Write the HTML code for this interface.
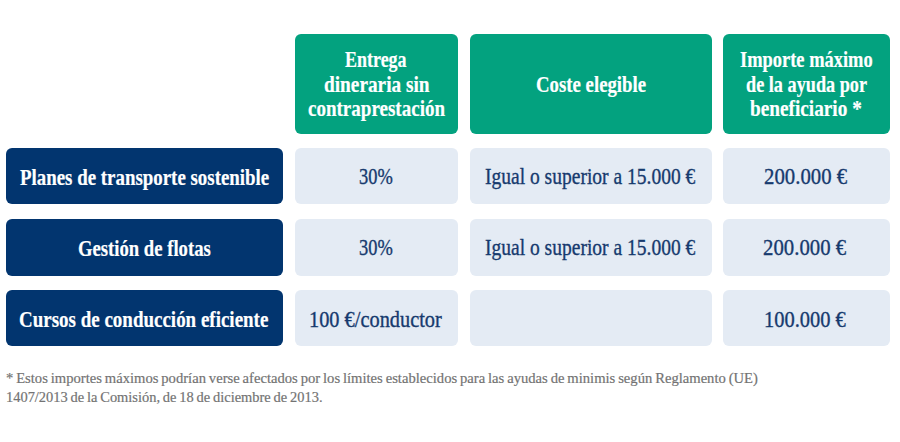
<!DOCTYPE html>
<html><head><meta charset="utf-8"><style>
html,body{margin:0;padding:0;width:900px;height:442px;overflow:hidden;background:#fff;position:relative}
.b{position:absolute;border-radius:6px}
.t{position:absolute;white-space:nowrap;line-height:1;transform-origin:0 0;font-family:"Liberation Serif",serif}
</style></head><body>
<div class="b" style="left:295.0px;top:34.00px;width:163.0px;height:100.00px;background:#03a27f"></div>
<div class="b" style="left:470.0px;top:34.00px;width:241.6px;height:100.00px;background:#03a27f"></div>
<div class="b" style="left:723.4px;top:34.00px;width:166.9px;height:100.00px;background:#03a27f"></div>
<div class="b" style="left:6.0px;top:147.90px;width:276.7px;height:56.50px;background:#02356f"></div>
<div class="b" style="left:295.3px;top:147.90px;width:162.7px;height:56.50px;background:#e4ebf4"></div>
<div class="b" style="left:470.3px;top:147.90px;width:241.3px;height:56.50px;background:#e4ebf4"></div>
<div class="b" style="left:723.4px;top:147.90px;width:166.9px;height:56.50px;background:#e4ebf4"></div>
<div class="b" style="left:6.0px;top:219.15px;width:276.7px;height:56.50px;background:#02356f"></div>
<div class="b" style="left:295.3px;top:219.15px;width:162.7px;height:56.50px;background:#e4ebf4"></div>
<div class="b" style="left:470.3px;top:219.15px;width:241.3px;height:56.50px;background:#e4ebf4"></div>
<div class="b" style="left:723.4px;top:219.15px;width:166.9px;height:56.50px;background:#e4ebf4"></div>
<div class="b" style="left:6.0px;top:290.40px;width:276.7px;height:56.00px;background:#02356f"></div>
<div class="b" style="left:295.3px;top:290.40px;width:162.7px;height:56.00px;background:#e4ebf4"></div>
<div class="b" style="left:470.3px;top:290.40px;width:241.3px;height:56.00px;background:#e4ebf4"></div>
<div class="b" style="left:723.4px;top:290.40px;width:166.9px;height:56.00px;background:#e4ebf4"></div>
<div class="t" style="left:345.40px;top:48.45px;font-size:23.82px;font-weight:700;color:#fff;-webkit-text-stroke:0.20px #fff;transform:scaleX(0.7549)">Entrega</div>
<div class="t" style="left:323.59px;top:72.95px;font-size:23.82px;font-weight:700;color:#fff;-webkit-text-stroke:0.20px #fff;transform:scaleX(0.8101)">dineraria sin</div>
<div class="t" style="left:308.20px;top:97.45px;font-size:23.82px;font-weight:700;color:#fff;-webkit-text-stroke:0.20px #fff;transform:scaleX(0.7988)">contraprestación</div>
<div class="t" style="left:535.51px;top:72.95px;font-size:23.82px;font-weight:700;color:#fff;-webkit-text-stroke:0.20px #fff;transform:scaleX(0.7891)">Coste elegible</div>
<div class="t" style="left:739.83px;top:48.45px;font-size:23.82px;font-weight:700;color:#fff;-webkit-text-stroke:0.20px #fff;transform:scaleX(0.7747)">Importe máximo</div>
<div class="t" style="left:745.53px;top:72.95px;font-size:23.82px;font-weight:700;color:#fff;-webkit-text-stroke:0.20px #fff;transform:scaleX(0.7656)">de la ayuda por</div>
<div class="t" style="left:750.00px;top:97.45px;font-size:23.82px;font-weight:700;color:#fff;-webkit-text-stroke:0.20px #fff;transform:scaleX(0.8088)">beneficiario *</div>
<div class="t" style="left:19.50px;top:165.65px;font-size:23.82px;font-weight:700;color:#fff;-webkit-text-stroke:0.20px #fff;transform:scaleX(0.7933)">Planes de transporte sostenible</div>
<div class="t" style="left:77.52px;top:236.90px;font-size:23.82px;font-weight:700;color:#fff;-webkit-text-stroke:0.20px #fff;transform:scaleX(0.7839)">Gestión de flotas</div>
<div class="t" style="left:19.10px;top:308.15px;font-size:23.82px;font-weight:700;color:#fff;-webkit-text-stroke:0.20px #fff;transform:scaleX(0.7971)">Cursos de conducción eficiente</div>
<div class="t" style="left:359.10px;top:166.22px;font-size:22.91px;font-weight:400;color:#163a6e;-webkit-text-stroke:0.35px #163a6e;transform:scaleX(0.8049)">30%</div>
<div class="t" style="left:359.10px;top:237.47px;font-size:22.91px;font-weight:400;color:#163a6e;-webkit-text-stroke:0.35px #163a6e;transform:scaleX(0.8049)">30%</div>
<div class="t" style="left:484.55px;top:166.22px;font-size:22.91px;font-weight:400;color:#163a6e;-webkit-text-stroke:0.35px #163a6e;transform:scaleX(0.8520)">Igual o superior a 15.000 €</div>
<div class="t" style="left:484.55px;top:237.47px;font-size:22.91px;font-weight:400;color:#163a6e;-webkit-text-stroke:0.35px #163a6e;transform:scaleX(0.8520)">Igual o superior a 15.000 €</div>
<div class="t" style="left:763.79px;top:166.22px;font-size:22.91px;font-weight:400;color:#163a6e;-webkit-text-stroke:0.35px #163a6e;transform:scaleX(0.9077)">200.000 €</div>
<div class="t" style="left:763.49px;top:237.47px;font-size:22.91px;font-weight:400;color:#163a6e;-webkit-text-stroke:0.35px #163a6e;transform:scaleX(0.9077)">200.000 €</div>
<div class="t" style="left:308.92px;top:308.72px;font-size:22.91px;font-weight:400;color:#163a6e;-webkit-text-stroke:0.35px #163a6e;transform:scaleX(0.8885)">100 €/conductor</div>
<div class="t" style="left:763.61px;top:308.72px;font-size:22.91px;font-weight:400;color:#163a6e;-webkit-text-stroke:0.35px #163a6e;transform:scaleX(0.8933)">100.000 €</div>
<div class="t" style="left:5.72px;top:371.17px;font-size:14.97px;font-weight:400;color:#737373;word-spacing:-0.80px;-webkit-text-stroke:0.20px #737373;transform:scaleX(0.9770)">* Estos importes máximos podrían verse afectados por los límites establecidos para las ayudas de minimis según Reglamento (UE)</div>
<div class="t" style="left:5.74px;top:389.97px;font-size:14.97px;font-weight:400;color:#737373;word-spacing:-0.80px;-webkit-text-stroke:0.20px #737373;transform:scaleX(0.9641)">1407/2013 de la Comisión, de 18 de diciembre de 2013.</div>
</body></html>
